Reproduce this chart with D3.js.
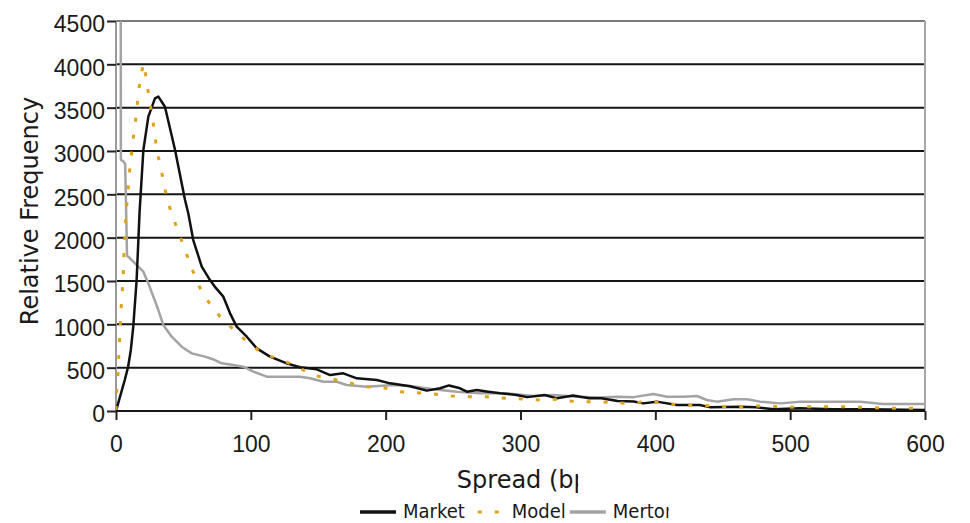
<!DOCTYPE html>
<html>
<head>
<meta charset="utf-8">
<script src="https://cdn.jsdelivr.net/npm/d3@7"></script>
<style>
    body { margin: 0; background: #fff; }
    svg { display: block; font-family: 'DejaVu Sans', sans-serif; }
    .axis text { fill: #1a1a1a; font-size: 23px; }
    .axis line { stroke: #222; stroke-width: 2; }
    .title { fill: #1a1a1a; font-size: 24px; }
    .legend text { fill: #1a1a1a; font-size: 20px; font-family: 'DejaVu Sans Condensed', 'DejaVu Sans', sans-serif; font-stretch: condensed; }
</style>
</head>
<body>
<script>
(function () {

    'use strict'

    const margin = { top: 21, right: 45, bottom: 112, left: 116 }
        , width = 970 - margin.left - margin.right
        , height = 523 - margin.top - margin.bottom

    // [spread (bp), relative frequency]
    const market = [
        [0, 0], [3, 165], [6.5, 358], [9, 511], [11, 704], [12.8, 973], [15.3, 1511], [17.5, 2300],
        [20.3, 3011], [24, 3396], [28.9, 3608], [31.4, 3627], [36.3, 3511], [43.8, 3011], [51.2, 2434],
        [53.6, 2282], [57.3, 1973], [63.6, 1665], [69.7, 1511], [74, 1420], [79.6, 1319], [84.6, 1127],
        [89.5, 973], [97, 857], [104.4, 723], [114.2, 627], [126.6, 550], [136.5, 504], [148.9, 481],
        [158.8, 415], [168.6, 435], [178.6, 377], [193.4, 358], [203.3, 319], [218, 285], [230.5, 235],
        [240.4, 262], [247, 295], [255.2, 262], [260.2, 223], [267.6, 242], [276, 223], [285, 204],
        [297, 185], [305, 160], [318, 185], [327, 146], [339, 180], [351, 146], [360, 146], [372, 115],
        [384, 110], [391, 88], [401, 108], [416, 69], [433, 69], [441, 42], [463, 50], [475, 42],
        [488, 19], [507, 31], [532, 19], [557, 19], [600, 12]
    ]

    const model = [
        [0, 12], [0.5, 242], [1.7, 473], [2.2, 685], [3, 935], [3.7, 1165], [4.7, 1396], [5.4, 1588],
        [5.9, 1819], [6.7, 2050], [7.2, 2261], [8.7, 2492], [9.6, 2703], [11.1, 2915], [12.8, 3146],
        [14.6, 3365], [16.1, 3588], [17.8, 3811], [20.3, 4011], [22.8, 3811], [24.7, 3588], [27.2, 3377],
        [28.9, 3158], [31.4, 2934], [34.3, 2723], [37.1, 2504], [41, 2285], [46.2, 2069], [51.2, 1858],
        [56.2, 1646], [61.8, 1434], [69, 1250], [77.2, 1088], [87, 942], [98.1, 788], [109.3, 658],
        [121.7, 596], [134, 519], [145.2, 415], [158, 377], [172, 330], [184.7, 281], [198, 270],
        [210.7, 223], [223, 211], [235.4, 196], [249, 173], [262.6, 165], [275, 165], [288.6, 146],
        [302, 138], [314.5, 127], [328, 135], [340.5, 108], [354, 108], [367.7, 100], [380, 88],
        [392.4, 108], [404.8, 96], [418.4, 69], [430.8, 69], [444.4, 58], [458, 42], [471.6, 58],
        [484, 58], [496.3, 42], [510, 50], [535, 50], [555, 42], [575, 31], [600, 31]
    ]

    const merton = [
        [0, 5200], [3.5, 5200], [3.6, 2900], [5.5, 2880], [6.8, 2850], [8.2, 1790], [9.1, 1781],
        [14.1, 1704], [20.3, 1607], [24, 1473], [27.7, 1319], [31.4, 1165], [35.1, 992], [41.3, 857],
        [48.7, 742], [56.2, 665], [66, 627], [73.4, 588], [78.4, 550], [87, 531], [94.4, 511],
        [101.9, 454], [111.8, 396], [124.1, 396], [136.5, 396], [143.9, 377], [153.8, 338],
        [163.7, 338], [171.1, 300], [186, 281], [205.7, 300], [218.1, 288], [235.4, 250], [252.7, 223],
        [270, 204], [289.8, 204], [309.6, 173], [324.4, 185], [341.8, 165], [359, 155], [371.4, 165],
        [383.8, 160], [398.6, 196], [408.5, 165], [420.8, 165], [430.8, 173], [438.2, 127],
        [445.6, 108], [458, 135], [467.9, 135], [477.7, 108], [492.6, 88], [507.4, 108], [522.3, 108],
        [537.1, 108], [551.9, 108], [569.1, 81], [596.4, 81], [600, 81]
    ]

    const xTicks = [0, 100, 200, 300, 400, 500, 600]
    const yTicks = [0, 500, 1000, 1500, 2000, 2500, 3000, 3500, 4000, 4500]
    const seriesNames = ['Market', 'Model', 'Merton']

    const series = [
        { name: seriesNames[0], data: market, color: '#111', width: 2.5, dash: null },
        { name: seriesNames[1], data: model, color: '#dfa21b', width: 3, dash: '4,13' },
        { name: seriesNames[2], data: merton, color: '#a3a3a3', width: 2.5, dash: null }
    ]

    const svg = d3.select('body')
        .append('svg')
        .attr('width', 970)
        .attr('height', 523)

    const xScale = d3.scaleLinear().domain([0, 600]).range([0, width])
    const yScale = d3.scaleLinear().domain([0, 4500]).range([height, 0])

    const plot = svg.append('g')
        .attr('transform', 'translate(' + margin.left + ',' + margin.top + ')')

    plot.append('clipPath')
        .attr('id', 'plotClip')
        .append('rect')
        .attr('x', 0).attr('y', 0)
        .attr('width', width).attr('height', height)

    // horizontal grid, top one is lighter
    plot.selectAll('.grid')
        .data(yTicks)
        .enter()
        .append('line')
        .attr('class', 'grid')
        .attr('x1', 0).attr('x2', width)
        .attr('y1', d => yScale(d)).attr('y2', d => yScale(d))
        .attr('stroke', d => d === 4500 ? '#7a7a7a' : '#151515')
        .attr('stroke-width', 2)

    // left and right frame
    plot.append('line')
        .attr('x1', 0).attr('x2', 0).attr('y1', 0).attr('y2', height)
        .attr('stroke', '#9a9a9a').attr('stroke-width', 2)
    plot.append('line')
        .attr('x1', width).attr('x2', width).attr('y1', 0).attr('y2', height)
        .attr('stroke', '#a8a8a8').attr('stroke-width', 2)

    // axes
    const yAxis = plot.append('g')
        .attr('class', 'axis')
        .call(d3.axisLeft(yScale).tickValues(yTicks).tickFormat(d3.format('d'))
            .tickSize(9).tickPadding(2).tickSizeOuter(0))
    yAxis.select('.domain').remove()
    yAxis.selectAll('text').attr('y', 3.5)

    const xAxis = plot.append('g')
        .attr('class', 'axis')
        .attr('transform', 'translate(0,' + height + ')')
        .call(d3.axisBottom(xScale).tickValues(xTicks).tickFormat(d3.format('d'))
            .tickSize(9).tickPadding(15.5).tickSizeOuter(0))
    xAxis.select('.domain').remove()

    const line = d3.line()
        .x(d => xScale(d[0]))
        .y(d => yScale(d[1]))

    // Merton under, Model dots on top
    const drawOrder = [series[2], series[0], series[1]]
    plot.append('g')
        .attr('clip-path', 'url(#plotClip)')
        .selectAll('path')
        .data(drawOrder)
        .enter()
        .append('path')
        .attr('d', d => line(d.data))
        .attr('fill', 'none')
        .attr('stroke', d => d.color)
        .attr('stroke-width', d => d.width)
        .attr('stroke-dasharray', d => d.dash)
        .attr('stroke-linejoin', 'round')

    // y title
    svg.append('text')
        .attr('class', 'title')
        .attr('text-anchor', 'middle')
        .attr('transform', 'translate(37.5,' + (margin.top + height / 2 - 5) + ') rotate(-90)')
        .text('Relative Frequency')

    // x title, cut off like in the original and centred on what is left
    const xTitle = svg.append('g')
    const xt = xTitle.append('text')
        .attr('class', 'title')
        .attr('x', 0).attr('y', 0)
        .text('Spread (bp)')
    const cut = xt.node().getStartPositionOfChar(9).x + 4.6
    xTitle.append('clipPath')
        .attr('id', 'xTitleClip')
        .append('rect')
        .attr('x', -3).attr('y', -30).attr('width', cut + 3).attr('height', 40)
    xt.attr('clip-path', 'url(#xTitleClip)')
    xTitle.attr('transform', 'translate(' + (margin.left + width / 2 - cut / 2 - 3) + ',488)')

    // legend
    const legend = svg.append('g').attr('class', 'legend')
    let lx = 360
    series.forEach((s, i) => {
        const g = legend.append('g').attr('transform', 'translate(' + lx + ',0)')
        g.append('line')
            .attr('x1', 0).attr('x2', 36)
            .attr('y1', 512).attr('y2', 512)
            .attr('stroke', s.color)
            .attr('stroke-width', s.dash ? 3 : 3.5)
            .attr('stroke-dasharray', s.dash)
            .attr('stroke-dashoffset', s.dash ? -9 : null)
        const t = g.append('text')
            .attr('x', 43).attr('y', 518)
            .text(s.name)
        let w = t.node().getComputedTextLength()
        if (i === series.length - 1) {
            // last name is clipped after the stem of its last letter
            w = t.node().getStartPositionOfChar(5).x - 43 + 3.8
            g.append('clipPath')
                .attr('id', 'legendClip')
                .append('rect')
                .attr('x', 40).attr('y', 495).attr('width', w + 3).attr('height', 30)
            t.attr('clip-path', 'url(#legendClip)')
        }
        lx += 43 + w + 4
    })
})()
</script>
</body>
</html>
